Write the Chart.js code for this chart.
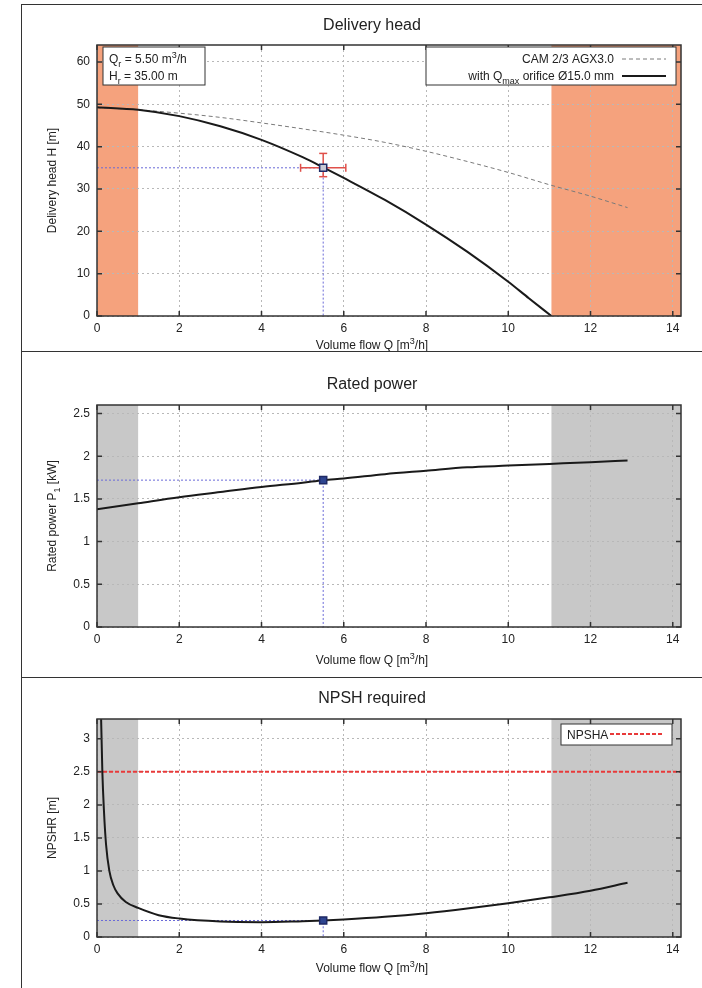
<!DOCTYPE html>
<html>
<head>
<meta charset="utf-8">
<script src="https://cdn.jsdelivr.net/npm/chart.js@4.4.0/dist/chart.umd.min.js"></script>
<style>
  html, body { margin: 0; padding: 0; background: #fff; }
  body { width: 702px; height: 988px; overflow: hidden; position: relative; }
  canvas { position: absolute; left: 0; }
  #frame { position: absolute; left: 21px; top: 4px; width: 760px; height: 1000px; border-left: 1.5px solid #333; border-top: 1.5px solid #333; }
  .divider { position: absolute; left: 21px; width: 760px; height: 0; border-top: 1.5px solid #333; }
</style>
</head>
<body>
<canvas id="headChart" width="744" height="352" style="top:0"></canvas>
<canvas id="powerChart" width="744" height="326" style="top:352px"></canvas>
<canvas id="npshChart" width="744" height="310" style="top:678px"></canvas>
<div id="frame"></div>
<div class="divider" style="top:351px"></div>
<div class="divider" style="top:677px"></div>
<script>
const FONT = '"Liberation Sans", Arial, sans-serif';

// operating range limits (shaded outside)
const qLow = 1.0;
const qHigh = 11.05;
const qMax = 14.2;

// delivery head
const qCam = [0, 1, 2, 3, 4, 5, 6, 7, 8, 9, 10, 11, 12, 12.9];
const hCam = [49.2, 48.7, 47.9, 46.9, 45.6, 44.2, 42.7, 41.0, 38.9, 36.5, 33.9, 31.0, 28.3, 25.6];
const qOrifice = [0, 1, 2, 3, 4, 5, 5.5, 6, 7, 8, 9, 10, 10.5, 11.05];
const hOrifice = [49.3, 48.7, 47.2, 44.8, 41.6, 37.5, 35.1, 32.6, 27.4, 21.6, 15.2, 8.1, 4.2, 0];

// rated power
const qPower = [0, 1, 2, 3, 4, 5, 5.5, 6, 7, 8, 9, 10, 11, 12, 12.9];
const power = [1.38, 1.45, 1.52, 1.58, 1.64, 1.69, 1.72, 1.74, 1.79, 1.83, 1.87, 1.89, 1.91, 1.93, 1.95];

// NPSH
const qNpsh = [0.07, 0.1, 0.13, 0.17, 0.22, 0.3, 0.4, 0.5, 0.7, 1.0, 1.5, 2, 3, 4, 5, 5.5, 6, 7, 8, 9, 10, 11, 12, 12.9];
const npshr = [4.4, 3.3, 2.5, 1.9, 1.4, 1.0, 0.78, 0.66, 0.53, 0.44, 0.33, 0.28, 0.235, 0.225, 0.24, 0.25, 0.265, 0.305, 0.36, 0.43, 0.51, 0.6, 0.7, 0.82];
const npsha = 2.5;

// rated point
const opQ = 5.5;
const opH = 35.0;
const opP = 1.72;
const opNpsh = 0.25;
const errQ = [4.95, 6.05];
const errH = [32.9, 38.4];

const xy = (xs, ys) => xs.map((x, i) => ({ x, y: ys[i] }));

function richText(ctx, parts, x, y, align, size) {
  const fontFor = p => `${p[1] ? Math.round(size * 0.72) : size}px ${FONT}`;
  const widths = parts.map(p => { ctx.font = fontFor(p); return ctx.measureText(p[0]).width; });
  const total = widths.reduce((s, w) => s + w, 0);
  let cx = align === 'center' ? x - total / 2 : align === 'right' ? x - total : x;
  ctx.textAlign = 'left';
  parts.forEach((p, i) => {
    ctx.font = fontFor(p);
    const dy = p[1] === 'sub' ? size * 0.3 : p[1] === 'sup' ? -size * 0.42 : 0;
    ctx.fillText(p[0], cx, y + dy);
    cx += widths[i];
  });
}

const xTitle = [['Volume flow Q [m'], ['3', 'sup'], ['/h]']];

function decoPlugin(cfg) {
  return {
    id: 'deco',
    beforeDraw(chart) {
      const { ctx, chartArea: a, scales: { x } } = chart;
      ctx.save();
      ctx.fillStyle = cfg.shade;
      [[0, qLow], [qHigh, qMax]].forEach(([q0, q1]) => {
        const x0 = x.getPixelForValue(q0), x1 = x.getPixelForValue(q1);
        ctx.fillRect(x0, a.top, x1 - x0, a.bottom - a.top);
      });
      ctx.restore();
    },
    afterDraw(chart) {
      const { ctx, chartArea: a, scales: { x, y } } = chart;
      ctx.save();
      ctx.strokeStyle = '#333';
      ctx.lineWidth = 1.5;
      ctx.strokeRect(a.left, a.top, a.right - a.left, a.bottom - a.top);
      ctx.beginPath();
      x.ticks.forEach(t => {
        const px = x.getPixelForValue(t.value);
        ctx.moveTo(px, a.bottom); ctx.lineTo(px, a.bottom - 5);
        ctx.moveTo(px, a.top); ctx.lineTo(px, a.top + 5);
      });
      y.ticks.forEach(t => {
        const py = y.getPixelForValue(t.value);
        ctx.moveTo(a.left, py); ctx.lineTo(a.left + 5, py);
        ctx.moveTo(a.right, py); ctx.lineTo(a.right - 5, py);
      });
      ctx.stroke();

      ctx.fillStyle = '#222';
      ctx.font = `16px ${FONT}`;
      ctx.textAlign = 'center';
      ctx.fillText(cfg.title, 372, cfg.titleY);
      richText(ctx, xTitle, 372, a.bottom + cfg.xTitleGap, 'center', 12);
      ctx.save();
      ctx.translate(56, (a.top + a.bottom) / 2);
      ctx.rotate(-Math.PI / 2);
      richText(ctx, cfg.yTitle, 0, 0, 'center', 12);
      ctx.restore();
      if (cfg.legend) cfg.legend(ctx, chart);
      ctx.restore();
    }
  };
}

function scalesFor(yMax, yStep, xHeight) {
  const tickFont = { family: FONT, size: 12 };
  return {
    x: {
      type: 'linear', min: 0, max: qMax,
      afterFit: s => { s.height = xHeight; },
      ticks: { stepSize: 2, includeBounds: false, padding: 5, color: '#222', font: tickFont, maxRotation: 0 },
      grid: { color: '#b8b8b8', drawTicks: false, lineWidth: 1 },
      border: { display: false, dash: [2, 3] }
    },
    y: {
      type: 'linear', min: 0, max: yMax,
      afterFit: s => { s.width = 97; },
      ticks: {
        stepSize: yStep, includeBounds: false, padding: 7, color: '#222', font: tickFont,
        callback: v => String(Math.round(v * 10) / 10)
      },
      grid: { color: '#b8b8b8', drawTicks: false, lineWidth: 1 },
      border: { display: false, dash: [2, 3] }
    }
  };
}

function refLines(q, v) {
  return {
    data: [{ x: 0, y: v }, { x: q, y: v }, { x: q, y: 0 }],
    showLine: true, borderColor: '#6a6ad8', borderWidth: 1, borderDash: [2, 2],
    pointRadius: 0
  };
}

function marker(q, v, fill) {
  return {
    data: [{ x: q, y: v }],
    pointStyle: 'rect', pointRadius: 5, backgroundColor: fill,
    borderColor: '#1f2a66', borderWidth: 1.5
  };
}

function curve(xs, ys, color, width, dash) {
  return {
    data: xy(xs, ys), showLine: true, borderColor: color, borderWidth: width,
    borderDash: dash || [], pointRadius: 0, cubicInterpolationMode: 'monotone'
  };
}

const baseOptions = (scales, top) => ({
  responsive: false, animation: false, devicePixelRatio: 1,
  layout: { padding: { left: 0, right: 63, top: top, bottom: 0 } },
  plugins: { legend: { display: false }, tooltip: { enabled: false } },
  scales
});

// ---- delivery head ----
new Chart(document.getElementById('headChart'), {
  type: 'scatter',
  data: {
    datasets: [
      marker(opQ, opH, '#c9c9d4'),
      {
        data: [{ x: errQ[0], y: opH }, { x: errQ[1], y: opH }], showLine: true,
        borderColor: '#e0504a', borderWidth: 1.5, pointStyle: 'line', pointRotation: 90,
        pointRadius: 4, pointBorderColor: '#e0504a', pointBorderWidth: 1.5
      },
      {
        data: [{ x: opQ, y: errH[0] }, { x: opQ, y: errH[1] }], showLine: true,
        borderColor: '#e0504a', borderWidth: 1.5, pointStyle: 'line', pointRotation: 0,
        pointRadius: 4, pointBorderColor: '#e0504a', pointBorderWidth: 1.5
      },
      curve(qOrifice, hOrifice, '#1a1a1a', 2),
      curve(qCam, hCam, '#7a7a7a', 1, [4, 3]),
      refLines(opQ, opH)
    ]
  },
  options: baseOptions(scalesFor(64, 10, 36), 45),
  plugins: [decoPlugin({
    shade: '#f5a27d', title: 'Delivery head', titleY: 30, xTitleGap: 33,
    yTitle: [['Delivery head H [m]']],
    legend(ctx) {
      ctx.fillStyle = '#fff'; ctx.strokeStyle = '#333'; ctx.lineWidth = 1;
      ctx.fillRect(103, 47, 102, 38); ctx.strokeRect(103, 47, 102, 38);
      ctx.fillStyle = '#222';
      richText(ctx, [['Q'], ['r', 'sub'], [' = ' + opQ.toFixed(2) + ' m'], ['3', 'sup'], ['/h']], 109, 63, 'left', 12);
      richText(ctx, [['H'], ['r', 'sub'], [' = ' + opH.toFixed(2) + ' m']], 109, 80, 'left', 12);

      ctx.fillStyle = '#fff';
      ctx.fillRect(426, 47, 250, 38); ctx.strokeRect(426, 47, 250, 38);
      ctx.fillStyle = '#222';
      richText(ctx, [['CAM 2/3 AGX3.0']], 614, 63, 'right', 12);
      richText(ctx, [['with Q'], ['max', 'sub'], [' orifice Ø15.0 mm']], 614, 80, 'right', 12);
      ctx.beginPath(); ctx.strokeStyle = '#7a7a7a'; ctx.setLineDash([4, 3]);
      ctx.moveTo(622, 59); ctx.lineTo(666, 59); ctx.stroke();
      ctx.beginPath(); ctx.strokeStyle = '#1a1a1a'; ctx.lineWidth = 2; ctx.setLineDash([]);
      ctx.moveTo(622, 76); ctx.lineTo(666, 76); ctx.stroke();
    }
  })]
});

// ---- rated power ----
new Chart(document.getElementById('powerChart'), {
  type: 'scatter',
  data: {
    datasets: [
      marker(opQ, opP, '#2e4590'),
      curve(qPower, power, '#1a1a1a', 2),
      refLines(opQ, opP)
    ]
  },
  options: baseOptions(scalesFor(2.6, 0.5, 51), 53),
  plugins: [decoPlugin({
    shade: '#c8c8c8', title: 'Rated power', titleY: 37, xTitleGap: 37,
    yTitle: [['Rated power P'], ['1', 'sub'], [' [kW]']]
  })]
});

// ---- NPSH required ----
new Chart(document.getElementById('npshChart'), {
  type: 'scatter',
  data: {
    datasets: [
      marker(opQ, opNpsh, '#2e4590'),
      curve(qNpsh, npshr, '#1a1a1a', 2),
      {
        data: [{ x: 0, y: npsha }, { x: qMax, y: npsha }], showLine: true,
        borderColor: '#e83a3a', borderWidth: 2, borderDash: [4, 2], pointRadius: 0
      },
      refLines(opQ, opNpsh)
    ]
  },
  options: baseOptions(scalesFor(3.3, 0.5, 51), 41),
  plugins: [decoPlugin({
    shade: '#c8c8c8', title: 'NPSH required', titleY: 25, xTitleGap: 35,
    yTitle: [['NPSHR [m]']],
    legend(ctx) {
      ctx.fillStyle = '#fff'; ctx.strokeStyle = '#333'; ctx.lineWidth = 1;
      ctx.fillRect(561, 46, 111, 21); ctx.strokeRect(561, 46, 111, 21);
      ctx.fillStyle = '#222';
      richText(ctx, [['NPSHA']], 567, 61, 'left', 12);
      ctx.beginPath(); ctx.strokeStyle = '#e83a3a'; ctx.lineWidth = 2; ctx.setLineDash([4, 2]);
      ctx.moveTo(610, 56); ctx.lineTo(664, 56); ctx.stroke();
    }
  })]
});
</script>
</body>
</html>
